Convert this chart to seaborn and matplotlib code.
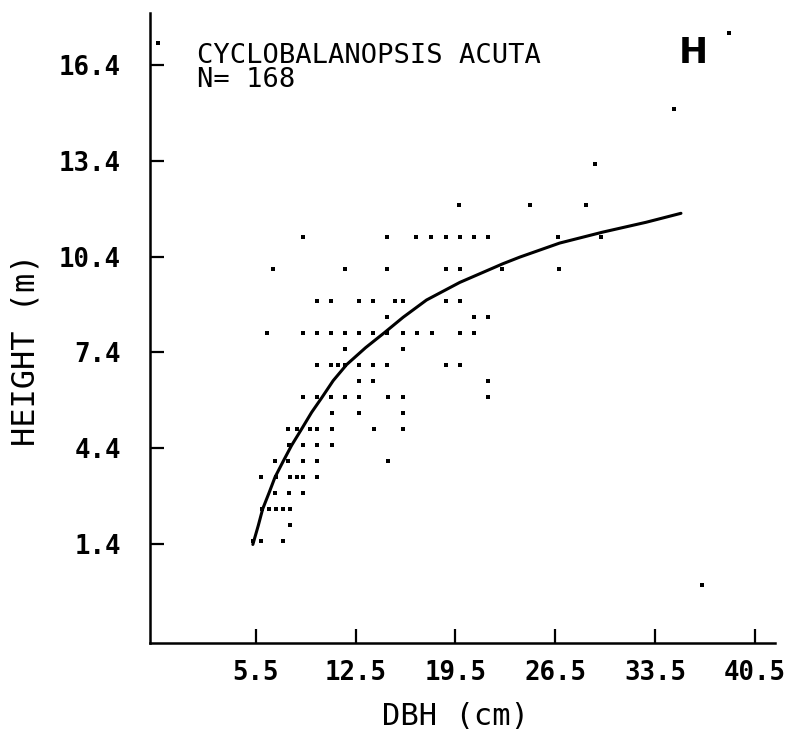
import matplotlib
matplotlib.use("Agg")
import matplotlib.pyplot as plt
import seaborn as sns
import pandas as pd

# ---- data ----
dbh_cm = [-1.35, 38.7, 34.8, 29.3,
          19.75, 24.74, 28.68,
          8.79, 14.71, 16.72, 17.75, 18.82, 19.8, 20.8, 21.78, 26.67, 29.71,
          6.73, 11.75, 14.71, 18.82, 19.8, 22.78, 26.75,
          9.77, 10.75, 12.73, 13.73, 15.25, 15.79, 18.82, 19.8,
          14.71, 20.8, 21.78,
          6.27, 8.79, 9.77, 10.75, 11.75, 12.73, 13.73, 14.67, 15.79, 16.77, 17.82, 19.8, 20.8,
          11.75, 15.79,
          9.77, 10.75, 11.28, 11.75, 12.73, 13.73, 14.71, 18.82, 19.8,
          12.73, 13.73, 21.78,
          8.79, 9.77, 10.75, 11.75, 12.73, 14.76, 15.79, 21.78,
          10.82, 12.73, 15.79,
          7.78, 8.37, 9.3, 9.81, 10.82, 13.8, 15.79,
          7.85, 8.83, 9.81, 10.82,
          6.85, 7.78, 8.83, 9.81, 14.78,
          5.85, 6.92, 7.9, 8.41, 8.83, 9.81,
          6.85, 7.85, 8.83,
          5.92, 6.45, 6.92, 7.43, 7.9,
          7.9,
          5.33, 5.85, 7.43,
          36.8]
height_m = [17.07, 17.4, 15.0, 13.3,
            12, 12, 12,
            11, 11, 11, 11, 11, 11, 11, 11, 11, 11,
            10, 10, 10, 10, 10, 10, 10,
            9, 9, 9, 9, 9, 9, 9, 9,
            8.5, 8.5, 8.5,
            8, 8, 8, 8, 8, 8, 8, 8, 8, 8, 8, 8, 8,
            7.5, 7.5,
            7, 7, 7, 7, 7, 7, 7, 7, 7,
            6.5, 6.5, 6.5,
            6, 6, 6, 6, 6, 6, 6, 6,
            5.5, 5.5, 5.5,
            5, 5, 5, 5, 5, 5, 5,
            4.5, 4.5, 4.5, 4.5,
            4, 4, 4, 4, 4,
            3.5, 3.5, 3.5, 3.5, 3.5, 3.5,
            3, 3, 3,
            2.5, 2.5, 2.5, 2.5, 2.5,
            2,
            1.5, 1.5, 1.5,
            0.14]

curve_dbh = [5.3, 5.68, 5.99, 6.45, 6.85, 7.45, 8.02, 8.72, 9.42, 10.12, 10.93,
             11.87, 13.2, 14.55, 15.83, 17.47, 19.8, 22.13, 22.8, 24.0, 26.8,
             29.8, 32.86, 35.3]
curve_height = [1.4, 1.99, 2.51, 3.03, 3.5, 4.02, 4.5, 5.01, 5.53, 5.98, 6.52,
                7.02, 7.55, 8.03, 8.5, 9.04, 9.59, 10.04, 10.17, 10.38, 10.82,
                11.16, 11.47, 11.75]

x_ticks = [5.5, 12.5, 19.5, 26.5, 33.5, 40.5]
y_ticks = [1.4, 4.4, 7.4, 10.4, 13.4, 16.4]
species = "CYCLOBALANOPSIS ACUTA"
n_label = "N= 168"
panel = "H"

pts = pd.DataFrame({"dbh": dbh_cm, "height": height_m})
crv = pd.DataFrame({"dbh": curve_dbh, "height": curve_height})

sns.set_style("ticks")
plt.rcParams["font.family"] = ["DejaVu Sans Mono", "DejaVu Sans"]
for key in ("text.color", "axes.labelcolor", "xtick.color", "ytick.color",
            "axes.edgecolor"):
    plt.rcParams[key] = "black"

fig = plt.figure(figsize=(7.91, 7.51), dpi=100)
ax = fig.add_axes([150 / 791, 108 / 751, 625 / 791, 630.3 / 751])

sns.scatterplot(data=pts, x="dbh", y="height", ax=ax, color="black",
                marker="s", s=6, linewidth=0)
sns.lineplot(data=crv, x="dbh", y="height", ax=ax, color="black",
             linewidth=2.2, sort=False, estimator=None)

ax.set_xlim(-1.907, 41.89)
ax.set_ylim(-1.68, 18.02)
ax.set_xticks(x_ticks)
ax.set_yticks(y_ticks)
ax.set_xticklabels([f"{v:.1f}" for v in x_ticks], fontweight="bold", fontsize=18.5)
ax.set_yticklabels([f"{v:.1f}" for v in y_ticks], fontweight="bold", fontsize=18.5)
ax.tick_params(axis="both", direction="in", length=10, width=1.6,
               color="black", labelcolor="black")
ax.tick_params(axis="y", pad=21)
ax.tick_params(axis="x", pad=12)
sns.despine(ax=ax)
for sp in ("left", "bottom"):
    ax.spines[sp].set_linewidth(1.8)
    ax.spines[sp].set_color("black")

ax.set_xlabel("DBH (cm)", fontsize=22, color="black")
ax.set_ylabel("HEIGHT (m)", fontsize=23, color="black")
ax.xaxis.set_label_coords(0.488, -0.093)
ax.yaxis.set_label_coords(-0.173, 0.466)

ax.text(0.0747, 0.9203, species, transform=ax.transAxes, fontsize=19.5,
        va="baseline", ha="left", color="black")
ax.text(0.0747, 0.8816, n_label, transform=ax.transAxes, fontsize=19.5,
        va="baseline", ha="left", color="black")
ax.text(0.8688, 0.9195, panel, transform=ax.transAxes, fontsize=25,
        fontweight="bold", family=["DejaVu Sans"],
        va="baseline", ha="center", color="black")

fig.savefig("out.png", dpi=100, facecolor="white")
